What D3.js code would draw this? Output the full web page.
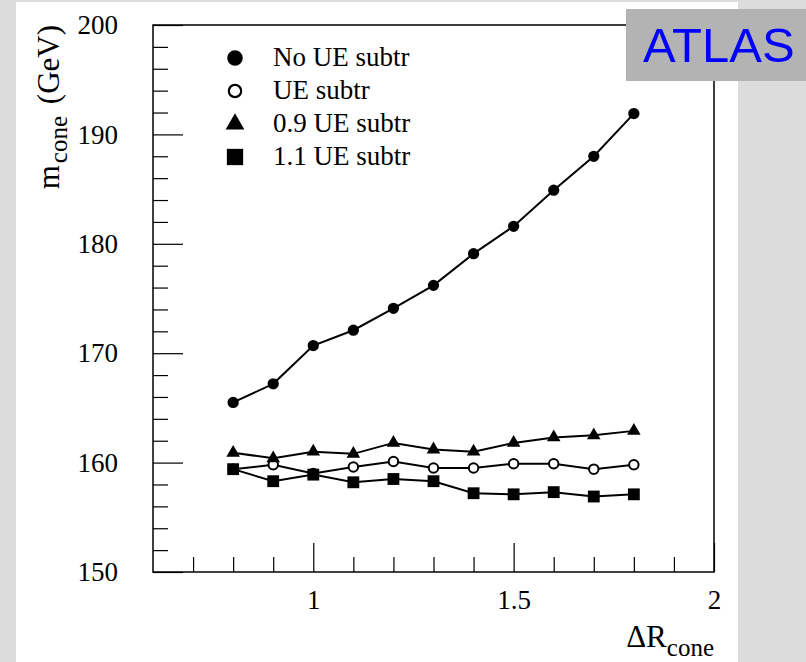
<!DOCTYPE html>
<html>
<head>
<meta charset="utf-8">
<script src="https://cdn.jsdelivr.net/npm/d3@7"></script>
<style>
  body { margin: 0; background: #dcdcdc; }
  svg { display: block; }
  .tick text { font-family: "Liberation Serif", "Times New Roman", serif; font-size: 27px; fill: #000; }
</style>
</head>
<body>
<svg id="chart" width="806" height="662"></svg>
<script>
const deltaR = [0.8, 0.9, 1.0, 1.1, 1.2, 1.3, 1.4, 1.5, 1.6, 1.7, 1.8];
const noUE   = [165.5, 167.2, 170.7, 172.1, 174.1, 176.2, 179.1, 181.6, 184.9, 188.0, 191.9];
const ueSub  = [159.4, 159.8, 159.0, 159.6, 160.1, 159.5, 159.5, 159.9, 159.9, 159.4, 159.8];
const ue09   = [160.9, 160.4, 161.0, 160.8, 161.8, 161.2, 161.0, 161.8, 162.3, 162.5, 162.9];
const ue11   = [159.4, 158.3, 158.9, 158.2, 158.5, 158.3, 157.2, 157.1, 157.3, 156.9, 157.1];

const xMajor = [1, 1.5, 2];
const xMinor = [0.7, 0.8, 0.9, 1.1, 1.2, 1.3, 1.4, 1.6, 1.7, 1.8, 1.9];
const yMajor = [150, 160, 170, 180, 190, 200];
const yMinor = d3.range(152, 200, 2).filter(v => v % 10 !== 0);

const series = [
  { name: "No UE subtr",  values: noUE,  symbol: "circle", fill: "#000" },
  { name: "UE subtr",     values: ueSub, symbol: "circle", fill: "#fff" },
  { name: "0.9 UE subtr", values: ue09,  symbol: "triangle", fill: "#000" },
  { name: "1.1 UE subtr", values: ue11,  symbol: "square", fill: "#000" }
];

const svg = d3.select("#chart");
const plotL = 153, plotR = 714, plotT = 25, plotB = 572;

const x = d3.scaleLinear().domain([0.6, 2]).range([plotL, plotR]);
const y = d3.scaleLinear().domain([150, 200]).range([plotB, plotT]);

// white page panel
svg.append("rect").attr("x", 16).attr("y", 2).attr("width", 722).attr("height", 670).attr("fill", "#fff");

// axes (ticks inside, ROOT style)
const gx = svg.append("g").attr("transform", `translate(0,${plotB})`);
gx.call(d3.axisBottom(x).tickValues(xMinor).tickSizeInner(-15).tickSizeOuter(0).tickFormat(""));
gx.select(".domain").remove();
const gx2 = svg.append("g").attr("transform", `translate(0,${plotB})`);
gx2.call(d3.axisBottom(x).tickValues(xMajor).tickSizeInner(-29).tickSizeOuter(0).tickPadding(18).tickFormat(d3.format("")));
gx2.select(".domain").remove();

const gy = svg.append("g").attr("transform", `translate(${plotL},0)`);
gy.call(d3.axisLeft(y).tickValues(yMinor).tickSizeInner(-15).tickSizeOuter(0).tickFormat(""));
gy.select(".domain").remove();
const gy2 = svg.append("g").attr("transform", `translate(${plotL},0)`);
gy2.call(d3.axisLeft(y).tickValues(yMajor).tickSizeInner(-30).tickSizeOuter(0).tickPadding(35));
gy2.select(".domain").remove();

svg.selectAll(".tick line").attr("stroke", "#000").attr("stroke-width", 1.2);

// frame
svg.append("rect")
  .attr("x", plotL).attr("y", plotT)
  .attr("width", plotR - plotL).attr("height", plotB - plotT)
  .attr("fill", "none").attr("stroke", "#000").attr("stroke-width", 1.5);

// axis titles
const serif = "'Liberation Serif', 'Times New Roman', serif";
const yt = svg.append("text")
  .attr("transform", "translate(59,25) rotate(-90)")
  .attr("text-anchor", "end")
  .attr("font-family", serif).attr("font-size", 31);
yt.append("tspan").text("m");
yt.append("tspan").attr("font-size", 25).attr("dx", 2).attr("dy", 8).text("cone");
yt.append("tspan").attr("dx", 4).attr("dy", -8).text(" (GeV)");

const xt = svg.append("text")
  .attr("x", 714).attr("y", 647)
  .attr("text-anchor", "end")
  .attr("font-family", serif).attr("font-size", 31);
xt.append("tspan").text("\u0394R");
xt.append("tspan").attr("font-size", 25).attr("dy", 9).text("cone");

// symbols
const symType = { circle: d3.symbolCircle, triangle: d3.symbolTriangle, square: d3.symbolSquare };
const symSize = { circle: 100, triangle: 80, square: 140 };

const line = d3.line().x((d, i) => x(deltaR[i])).y(d => y(d));

series.forEach(s => {
  svg.append("path")
    .datum(s.values)
    .attr("d", line)
    .attr("fill", "none")
    .attr("stroke", "#000")
    .attr("stroke-width", 2);
});

series.forEach(s => {
  svg.append("g").selectAll("path")
    .data(s.values)
    .join("path")
    .attr("transform", (d, i) => `translate(${x(deltaR[i])},${y(d)})`)
    .attr("d", d3.symbol(symType[s.symbol], s.fill === "#fff" ? 70 : symSize[s.symbol]))
    .attr("fill", s.fill)
    .attr("stroke", "#000")
    .attr("stroke-width", s.fill === "#fff" ? 2 : 0);
});

// legend
const legend = svg.append("g");
series.forEach((s, i) => {
  const ly = 58 + i * 33;
  legend.append("path")
    .attr("transform", `translate(235,${ly})`)
    .attr("d", d3.symbol(symType[s.symbol], s.fill === "#fff" ? 120 : symSize[s.symbol] * 1.9))
    .attr("fill", s.fill)
    .attr("stroke", "#000")
    .attr("stroke-width", s.fill === "#fff" ? 2.2 : 0);
  legend.append("text")
    .attr("x", 273).attr("y", ly + 8)
    .attr("font-family", serif).attr("font-size", 27)
    .text(s.name);
});

// ATLAS label
svg.append("rect").attr("x", 626).attr("y", 9).attr("width", 180).attr("height", 72).attr("fill", "#b3b3b3");
svg.append("text")
  .attr("x", 643).attr("y", 62)
  .attr("font-family", "'Liberation Sans', Arial, sans-serif")
  .attr("font-size", 49)
  .attr("fill", "#0000ff")
  .text("ATLAS");
</script>
</body>
</html>
